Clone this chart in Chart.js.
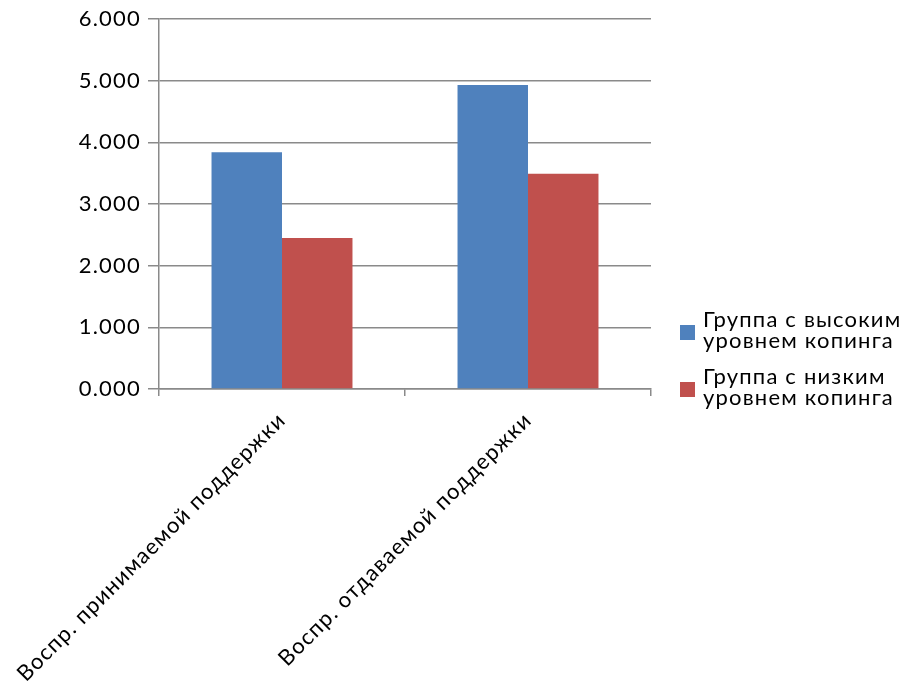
<!DOCTYPE html>
<html>
<head>
<meta charset="utf-8">
<script src="https://cdn.jsdelivr.net/npm/chart.js@4/dist/chart.umd.min.js"></script>
<style>
  html, body { margin: 0; padding: 0; background: #ffffff; }
  #wrap { width: 904px; height: 689px; position: relative; }
</style>
</head>
<body>
<div id="wrap"><canvas id="c" width="904" height="689"></canvas></div>
<script>
const categories = ["Воспр. принимаемой поддержки", "Воспр. отдаваемой поддержки"];
const seriesNames = [["Группа с высоким", "уровнем копинга"], ["Группа с низким", "уровнем копинга"]];
const highCoping = [3.84, 4.93];
const lowCoping = [2.45, 3.49];
const yTicks = [0, 1, 2, 3, 4, 5, 6];

const gridColor = "#8a8a8a";
const FONT = "Lato, 'Open Sans', sans-serif";
const FONT_SIZE = 22;
const LETTER_SPACING = "1.2px";

// Widen text slightly (the original rendering is wide-set)
const spacing = {
  id: "spacing",
  beforeUpdate(chart) { chart.ctx.letterSpacing = LETTER_SPACING; },
  beforeDraw(chart) { chart.ctx.letterSpacing = LETTER_SPACING; }
};

// Legend drawn on the canvas to the right of the plot (multi-line labels)
const sideLegend = {
  id: "sideLegend",
  afterDraw(chart) {
    const ctx = chart.ctx;
    const area = chart.chartArea;
    const boxX = area.right + 29;
    const textX = area.right + 52;
    const lineH = 21;
    const itemGap = 57;
    const firstBaseline = 327;
    ctx.save();
    ctx.letterSpacing = LETTER_SPACING;
    ctx.font = FONT_SIZE + "px " + FONT;
    ctx.textBaseline = "alphabetic";
    ctx.textAlign = "left";
    chart.data.datasets.forEach((ds, i) => {
      const base = firstBaseline + i * itemGap;
      ctx.fillStyle = ds.backgroundColor;
      ctx.fillRect(boxX, base - 2, 15, 15);
      ctx.fillStyle = "#000";
      ds.label.forEach((line, j) => ctx.fillText(line, textX, base + j * lineH));
    });
    ctx.restore();
  }
};

new Chart(document.getElementById("c"), {
  type: "bar",
  data: {
    labels: categories,
    datasets: [
      { label: seriesNames[0], data: highCoping, backgroundColor: "#4F81BD", borderWidth: 0 },
      { label: seriesNames[1], data: lowCoping, backgroundColor: "#C0504D", borderWidth: 0 }
    ]
  },
  plugins: [spacing, sideLegend],
  options: {
    responsive: false,
    animation: false,
    devicePixelRatio: 1,
    layout: { padding: { top: 19, left: 0, right: 253, bottom: 0 } },
    datasets: { bar: { barPercentage: 1.0, categoryPercentage: 0.573 } },
    plugins: {
      tooltip: { enabled: false },
      legend: { display: false }
    },
    scales: {
      x: {
        afterFit(axis) {
          axis.height = 300;
          axis.paddingLeft = 0;
          axis.paddingRight = 0;
        },
        grid: {
          display: true,
          drawOnChartArea: false,
          drawTicks: true,
          tickLength: 7,
          color: gridColor,
          lineWidth: 1.5
        },
        border: { display: true, color: gridColor, width: 1.5 },
        ticks: {
          color: "#000000",
          font: { family: FONT, size: FONT_SIZE },
          maxRotation: 45,
          minRotation: 45,
          autoSkip: false,
          padding: 11
        }
      },
      y: {
        min: 0,
        max: 6,
        afterFit(axis) {
          axis.width = 159;
          axis.paddingTop = 0;
          axis.paddingBottom = 0;
        },
        afterBuildTicks(axis) { axis.ticks = yTicks.map(v => ({ value: v })); },
        grid: {
          color: gridColor,
          lineWidth: 1.5,
          drawTicks: true,
          tickLength: 11
        },
        border: { display: true, color: gridColor, width: 1.5 },
        ticks: {
          color: "#000000",
          font: { family: FONT, size: FONT_SIZE },
          padding: 7,
          callback: (v) => Number(v).toFixed(3)
        }
      }
    }
  }
});
</script>
</body>
</html>
